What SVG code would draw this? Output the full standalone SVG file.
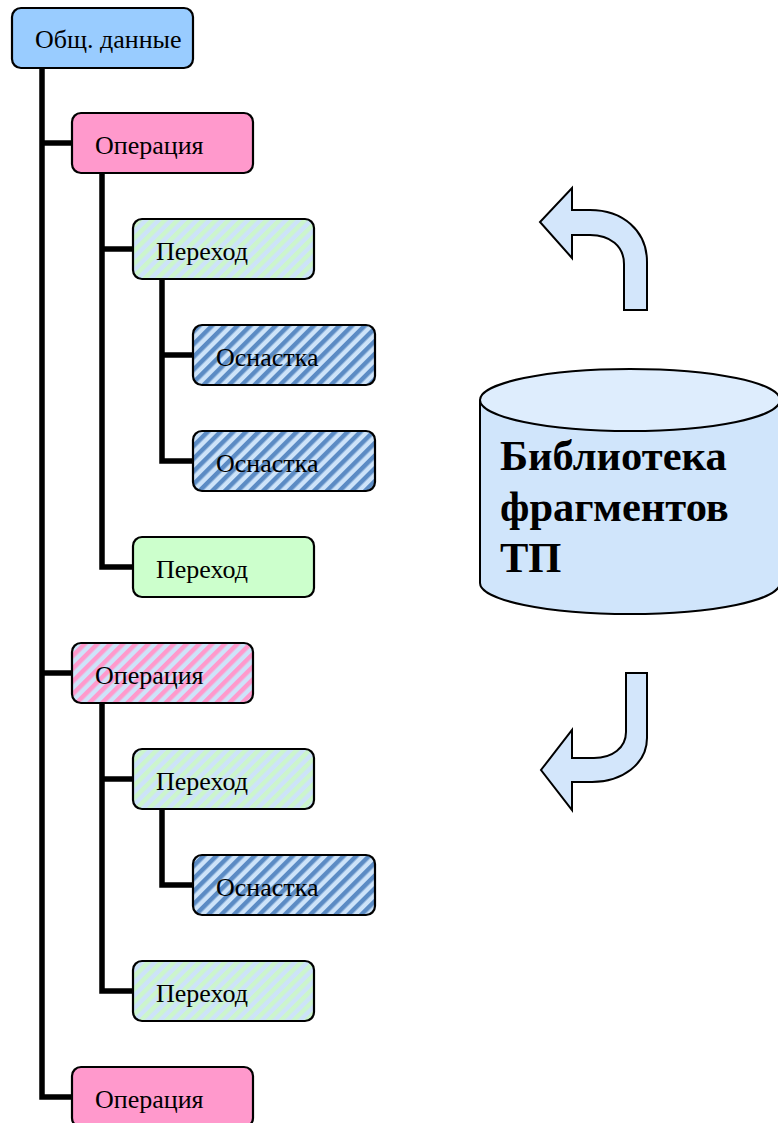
<svg xmlns="http://www.w3.org/2000/svg" width="778" height="1123" viewBox="0 0 778 1123">
<style>
.node rect{stroke:#000;stroke-width:2.2}
.node text{font-family:"Liberation Serif","Times New Roman",serif;font-size:26px;fill:#000}
.conn path{fill:none;stroke:#000;stroke-width:5.5;stroke-linejoin:miter}
.big{font-family:"Liberation Serif","Times New Roman",serif;font-size:42.5px;font-weight:bold;fill:#000}
.arrow{fill:#d3e6fb;stroke:#000;stroke-width:2;stroke-linejoin:miter}
</style>
<defs>
<pattern id="hGreen" width="9" height="9" patternUnits="userSpaceOnUse" patternTransform="rotate(45)">
<rect width="9" height="9" fill="#cde3f9"/>
<rect width="4.5" height="9" fill="#ccf5cc"/>
</pattern>
<pattern id="hBlue" width="9" height="9" patternUnits="userSpaceOnUse" patternTransform="rotate(45)">
<rect width="9" height="9" fill="#cde3f9"/>
<rect width="4.5" height="9" fill="#5b8bc4"/>
</pattern>
<pattern id="hPink" width="9" height="9" patternUnits="userSpaceOnUse" patternTransform="rotate(45)">
<rect width="9" height="9" fill="#cde3f9"/>
<rect width="4.5" height="9" fill="#ff99cc"/>
</pattern>
</defs>
<rect width="778" height="1123" fill="#fff"/>
<g class="conn">
<path d="M42,68 V1097 H72"/>
<path d="M42,143 H72"/>
<path d="M42,673 H72"/>
<path d="M102,173 V567 H133"/>
<path d="M102,249 H133"/>
<path d="M162,279 V461 H193"/>
<path d="M162,355 H193"/>
<path d="M102,703 V991 H133"/>
<path d="M102,779 H133"/>
<path d="M162,809 V885 H193"/>
</g>
<g id="n-obsh" class="node"><rect x="12" y="8" width="181" height="60" rx="9" fill="#99ccff"/><text x="35" y="48">Общ. данные</text></g>
<g id="n-op1" class="node"><rect x="72" y="113" width="181" height="60" rx="9" fill="#ff99cc"/><text x="95" y="154">Операция</text></g>
<g id="n-per1" class="node"><rect x="133" y="219" width="181" height="60" rx="9" fill="url(#hGreen)"/><text x="156" y="260">Переход</text></g>
<g id="n-osn1" class="node"><rect x="193" y="325" width="182" height="60" rx="9" fill="url(#hBlue)"/><text x="216" y="366">Оснастка</text></g>
<g id="n-osn2" class="node"><rect x="193" y="431" width="182" height="60" rx="9" fill="url(#hBlue)"/><text x="216" y="472">Оснастка</text></g>
<g id="n-per2" class="node"><rect x="133" y="537" width="181" height="60" rx="9" fill="#ccffcc"/><text x="156" y="578">Переход</text></g>
<g id="n-op2" class="node"><rect x="72" y="643" width="181" height="60" rx="9" fill="url(#hPink)"/><text x="95" y="684">Операция</text></g>
<g id="n-per3" class="node"><rect x="133" y="749" width="181" height="60" rx="9" fill="url(#hGreen)"/><text x="156" y="790">Переход</text></g>
<g id="n-osn3" class="node"><rect x="193" y="855" width="182" height="60" rx="9" fill="url(#hBlue)"/><text x="216" y="896">Оснастка</text></g>
<g id="n-per4" class="node"><rect x="133" y="961" width="181" height="60" rx="9" fill="url(#hGreen)"/><text x="156" y="1002">Переход</text></g>
<g id="n-op3" class="node"><rect x="72" y="1067" width="181" height="60" rx="9" fill="#ff99cc"/><text x="95" y="1108">Операция</text></g>
<g id="library">
<path d="M480,400 V583 A150,31 0 0 0 780,583 V400" fill="#d0e5fb" stroke="#000" stroke-width="2"/>
<ellipse cx="630" cy="400" rx="150" ry="31" fill="#deedfd" stroke="#000" stroke-width="2"/>
<text class="big" x="500" y="470">Библиотека</text>
<text class="big" x="500" y="521">фрагментов</text>
<text class="big" x="500" y="572">ТП</text>
</g>
<g id="arrow-up">
<path class="arrow" d="M624,310 L647,310 L647,262 C647,230 622,210 590,210 L572,210 L572,188 L540,222 L572,258 L572,235 L590,235 C610,235 624,246 624,264 Z"/>
</g>
<g id="arrow-down">
<path class="arrow" d="M626,673 L647,673 L647,738 C647,764 622,782 592,782 L572,782 L572,810 L541,770 L572,730 L572,758 L594,758 C612,758 626,748 626,732 Z"/>
</g>
</svg>
